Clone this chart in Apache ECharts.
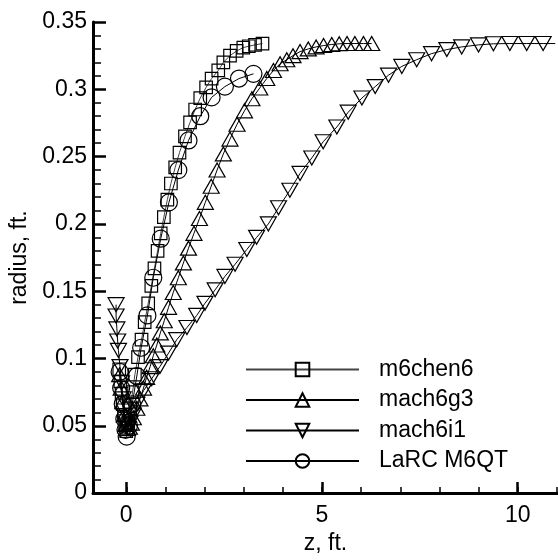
<!DOCTYPE html>
<html>
<head>
<meta charset="utf-8">
<script src="https://cdn.jsdelivr.net/npm/echarts@6/dist/echarts.min.js"></script>
<style>
html,body{margin:0;padding:0;background:#fff;}
#chart{width:558px;height:560px;}
</style>
</head>
<body>
<div id="chart"></div>
<script>
// ---- data (z in ft, radius in ft) ----
const seriesNames = ['m6chen6', 'mach6g3', 'mach6i1', 'LaRC M6QT'];

const m6chen6Z = [-0.18,-0.15,-0.12,-0.09,-0.06,-0.03,0.00,0.05,0.10,0.16,0.22,0.30,0.39,0.47,0.56,0.64,0.72,0.80,0.88,0.96,1.05,1.14,1.25,1.36,1.50,1.63,1.76,1.89,2.04,2.18,2.35,2.48,2.65,2.82,2.99,3.13,3.29,3.48];
const m6chen6R = [0.092,0.083,0.074,0.066,0.058,0.051,0.046,0.052,0.063,0.075,0.088,0.101,0.114,0.127,0.141,0.154,0.167,0.180,0.193,0.205,0.218,0.230,0.242,0.253,0.265,0.2755,0.285,0.2935,0.3015,0.308,0.314,0.320,0.325,0.3285,0.331,0.332,0.333,0.334];

const mach6g3Z = [-0.17,-0.13,-0.09,-0.05,-0.01,0.03,0.08,0.13,0.18,0.27,0.35,0.44,0.52,0.61,0.69,0.78,0.87,0.97,1.08,1.20,1.33,1.46,1.59,1.73,1.87,2.02,2.17,2.32,2.48,2.65,2.83,3.02,3.21,3.41,3.59,3.76,3.93,4.10,4.26,4.44,4.65,4.85,5.04,5.25,5.44,5.64,5.84,6.06,6.27];
const mach6g3R = [0.088,0.078,0.068,0.058,0.051,0.048,0.049,0.052,0.056,0.063,0.070,0.078,0.086,0.094,0.102,0.110,0.119,0.128,0.138,0.149,0.160,0.171,0.182,0.193,0.204,0.216,0.228,0.240,0.252,0.263,0.274,0.284,0.293,0.301,0.308,0.314,0.319,0.322,0.325,0.328,0.330,0.3315,0.3325,0.3333,0.3338,0.334,0.334,0.334,0.334];

const mach6i1Z = [-0.26,-0.26,-0.24,-0.22,-0.20,-0.16,-0.12,-0.08,-0.05,-0.02,0.01,0.05,0.10,0.18,0.27,0.44,0.65,0.86,1.08,1.29,1.55,1.80,2.01,2.27,2.52,2.78,3.08,3.33,3.63,3.89,4.18,4.44,4.74,5.03,5.38,5.67,6.02,6.36,6.70,7.04,7.42,7.80,8.19,8.57,9.00,9.38,9.80,10.23,10.65];
const mach6i1R = [0.140,0.1316,0.122,0.113,0.106,0.094,0.082,0.070,0.061,0.053,0.049,0.048,0.052,0.058,0.066,0.076,0.085,0.094,0.104,0.114,0.123,0.132,0.141,0.151,0.161,0.170,0.181,0.190,0.200,0.212,0.225,0.2375,0.249,0.261,0.272,0.283,0.2935,0.302,0.3105,0.317,0.322,0.3265,0.3295,0.3315,0.333,0.3338,0.334,0.334,0.334];
const mach6i1LineEnd = [10.96, 0.334];

const larcZ = [-0.17,-0.13,-0.09,-0.05,-0.02,0.01,0.07,0.15,0.27,0.38,0.54,0.69,0.88,1.09,1.33,1.59,1.89,2.18,2.52,2.88,3.25];
const larcR = [0.090,0.078,0.066,0.055,0.047,0.042,0.050,0.066,0.087,0.108,0.132,0.160,0.189,0.216,0.240,0.262,0.280,0.294,0.302,0.308,0.3115];

const xMajorTicks = [0, 5, 10];
const xMinorTicks = [0,1,2,3,4,5,6,7,8,9,10,11];

function pairs(xs, ys) { return xs.map((x, i) => [x, ys[i]]); }

const FONT = 'Liberation Sans, Arial, sans-serif';
const FS = 23;
const chart = echarts.init(document.getElementById('chart'), null, {renderer: 'canvas'});

const hollow = {color: 'rgba(0,0,0,0)', borderColor: '#000', borderWidth: 1.2};

const i1Data = pairs(mach6i1Z, mach6i1R);
i1Data.push({value: mach6i1LineEnd, symbol: 'none'});

const option = {
  animation: false,
  backgroundColor: '#fff',
  grid: {left: 93, right: 0, top: 22, bottom: 52, containLabel: false},
  xAxis: [{
    type: 'value', min: -0.85, max: 11.03,
    name: 'z, ft.', nameLocation: 'middle', nameGap: 32,
    nameTextStyle: {fontFamily: FONT, fontSize: FS, color: '#000'},
    axisLine: {show: true, onZero: false, lineStyle: {color: '#000', width: 3}},
    axisTick: {show: true, inside: true, length: 11, customValues: xMajorTicks, lineStyle: {color: '#000', width: 2.5}},
    axisLabel: {show: true, customValues: xMajorTicks, margin: 11, fontFamily: FONT, fontSize: FS, color: '#000'},
    splitLine: {show: false}
  }, {
    type: 'value', min: -0.85, max: 11.03, position: 'bottom',
    axisLine: {show: false},
    axisTick: {show: true, inside: true, length: 6, customValues: xMinorTicks, lineStyle: {color: '#000', width: 1.5}},
    axisLabel: {show: false},
    splitLine: {show: false}
  }],
  yAxis: {
    type: 'value', min: 0, max: 0.35, interval: 0.05,
    name: 'radius, ft.', nameLocation: 'middle', nameGap: 62,
    nameTextStyle: {fontFamily: FONT, fontSize: FS, color: '#000'},
    axisLine: {show: true, onZero: false, lineStyle: {color: '#000', width: 3}},
    axisTick: {show: true, inside: true, length: 13, lineStyle: {color: '#000', width: 2.5}},
    minorTick: {show: true, splitNumber: 5, length: 8, lineStyle: {color: '#000', width: 1.5}},
    axisLabel: {margin: 6, fontFamily: FONT, fontSize: FS, color: '#000'},
    splitLine: {show: false},
    minorSplitLine: {show: false}
  },
  legend: {
    orient: 'vertical', left: 240, top: 353,
    itemWidth: 113, itemHeight: 17, itemGap: 7.5,
    textStyle: {fontFamily: FONT, fontSize: FS, color: '#000', padding: [0, 0, 0, 15]},
    data: seriesNames
  },
  series: [{
    name: seriesNames[0], type: 'line', data: pairs(m6chen6Z, m6chen6R),
    symbol: 'rect', symbolSize: 12.5, showAllSymbol: true,
    itemStyle: hollow, lineStyle: {color: '#444', width: 1}
  }, {
    name: seriesNames[1], type: 'line', data: pairs(mach6g3Z, mach6g3R),
    symbol: 'triangle', symbolSize: [16, 14], showAllSymbol: true,
    itemStyle: hollow, lineStyle: {color: '#000', width: 1}
  }, {
    name: seriesNames[2], type: 'line', data: i1Data,
    symbol: 'triangle', symbolRotate: 180, symbolSize: [16, 14], showAllSymbol: true,
    itemStyle: hollow, lineStyle: {color: '#000', width: 1}
  }, {
    name: seriesNames[3], type: 'line', data: pairs(larcZ, larcR),
    symbol: 'circle', symbolSize: 17, showAllSymbol: true,
    itemStyle: hollow, lineStyle: {color: '#000', width: 1}
  }]
};
chart.setOption(option);
</script>
</body>
</html>
